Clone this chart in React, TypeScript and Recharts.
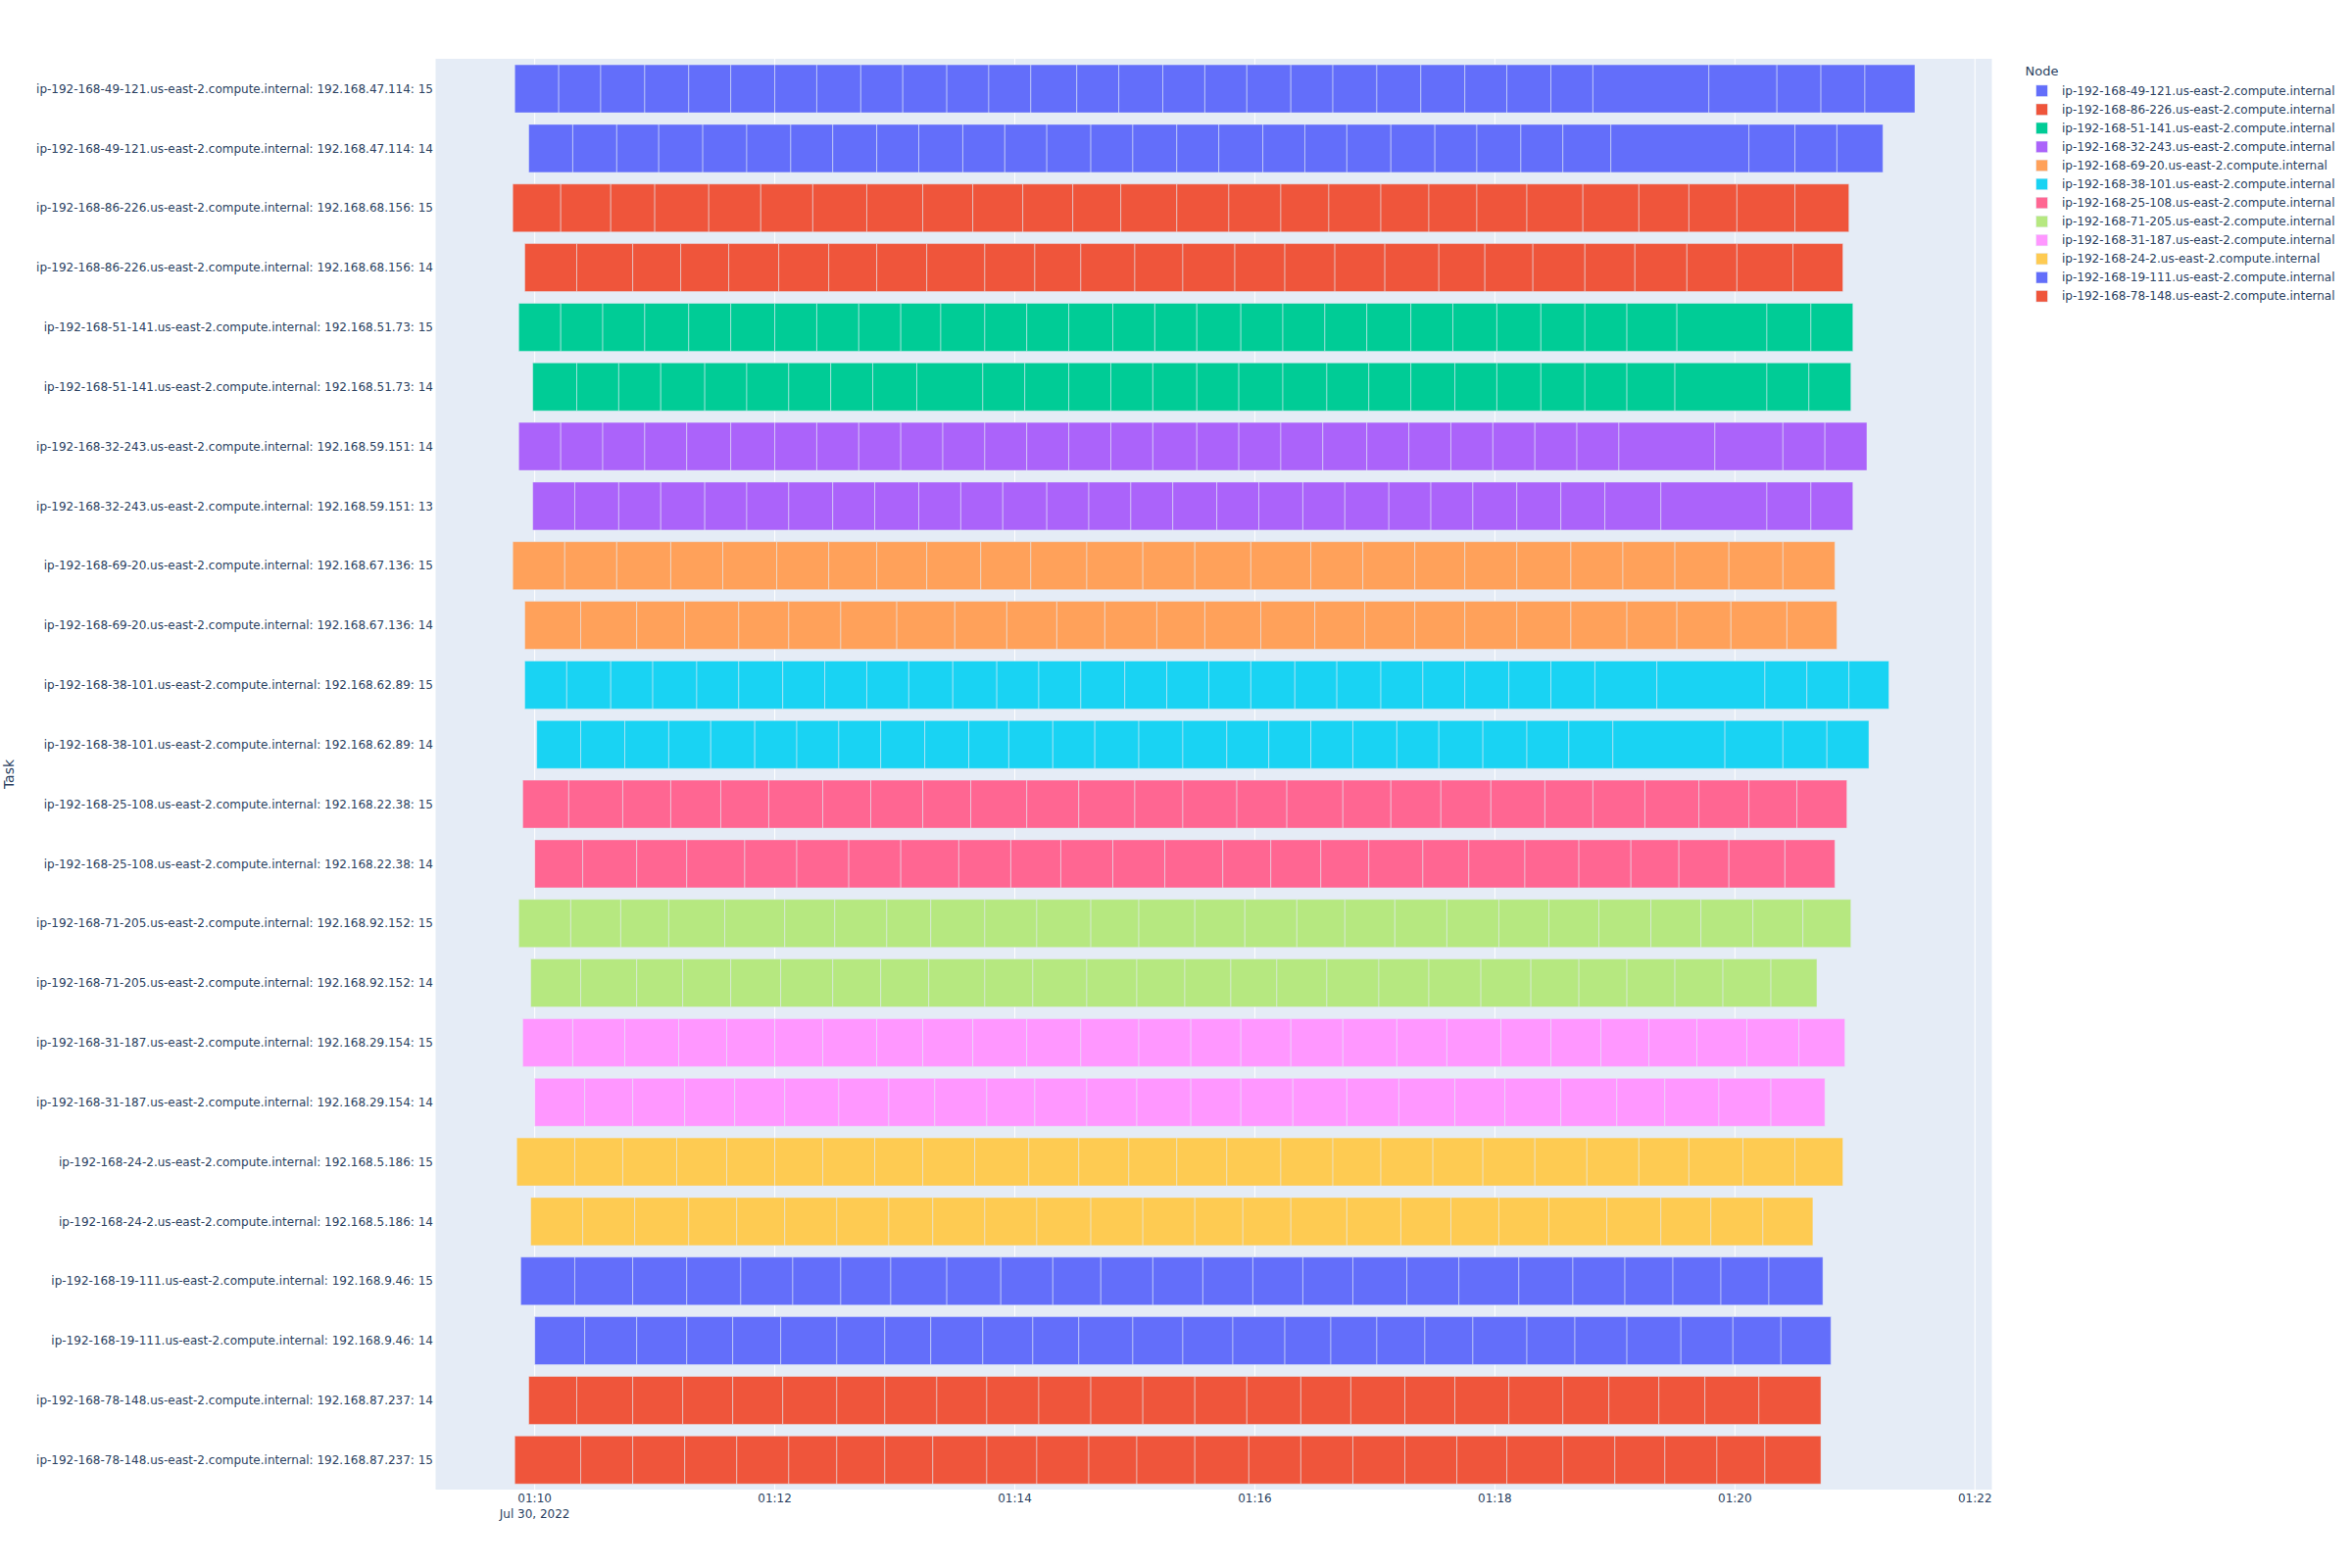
import { BarChart, Bar, XAxis, YAxis, CartesianGrid, Cell, Legend, Label } from "recharts";

const FONT = '"DejaVu Sans", verdana, arial, sans-serif';
const INK = "#2a3f5f";

// node names, in legend order
const nodes = [
  "ip-192-168-49-121.us-east-2.compute.internal",
  "ip-192-168-86-226.us-east-2.compute.internal",
  "ip-192-168-51-141.us-east-2.compute.internal",
  "ip-192-168-32-243.us-east-2.compute.internal",
  "ip-192-168-69-20.us-east-2.compute.internal",
  "ip-192-168-38-101.us-east-2.compute.internal",
  "ip-192-168-25-108.us-east-2.compute.internal",
  "ip-192-168-71-205.us-east-2.compute.internal",
  "ip-192-168-31-187.us-east-2.compute.internal",
  "ip-192-168-24-2.us-east-2.compute.internal",
  "ip-192-168-19-111.us-east-2.compute.internal",
  "ip-192-168-78-148.us-east-2.compute.internal",
];

const nodeColors = [
  "#636efa", "#EF553B", "#00cc96", "#ab63fa", "#FFA15A", "#19d3f3",
  "#FF6692", "#B6E880", "#FF97FF", "#FECB52", "#636efa", "#EF553B",
];

// task rows, top to bottom
const taskNode = [0, 0, 1, 1, 2, 2, 3, 3, 4, 4, 5, 5, 6, 6, 7, 7, 8, 8, 9, 9, 10, 10, 11, 11];
const taskWorker = [
  "192.168.47.114: 15", "192.168.47.114: 14",
  "192.168.68.156: 15", "192.168.68.156: 14",
  "192.168.51.73: 15", "192.168.51.73: 14",
  "192.168.59.151: 14", "192.168.59.151: 13",
  "192.168.67.136: 15", "192.168.67.136: 14",
  "192.168.62.89: 15", "192.168.62.89: 14",
  "192.168.22.38: 15", "192.168.22.38: 14",
  "192.168.92.152: 15", "192.168.92.152: 14",
  "192.168.29.154: 15", "192.168.29.154: 14",
  "192.168.5.186: 15", "192.168.5.186: 14",
  "192.168.9.46: 15", "192.168.9.46: 14",
  "192.168.87.237: 14", "192.168.87.237: 15",
];

// segment boundaries per task, seconds after 01:00:00 (Jul 30, 2022)
const segmentTimes = [
  [590, 612, 633, 655, 677, 698, 720, 741, 763, 784, 806, 827, 848, 871, 892, 914, 935, 956, 978, 999, 1021, 1043, 1065, 1086, 1108, 1129, 1187, 1221, 1243, 1265, 1290],
  [597, 619, 641, 662, 684, 706, 728, 749, 771, 792, 814, 835, 856, 878, 899, 921, 942, 964, 985, 1006, 1028, 1050, 1071, 1093, 1114, 1138, 1207, 1230, 1251, 1274],
  [589, 613, 638, 660, 687, 713, 739, 766, 794, 819, 844, 869, 893, 921, 947, 973, 997, 1023, 1047, 1071, 1096, 1124, 1152, 1177, 1201, 1230, 1257],
  [595, 621, 649, 673, 697, 722, 747, 771, 796, 825, 850, 873, 900, 924, 950, 975, 1000, 1025, 1052, 1075, 1099, 1125, 1150, 1176, 1201, 1229, 1254],
  [592, 613, 634, 655, 677, 698, 720, 741, 762, 783, 803, 825, 846, 867, 889, 910, 931, 953, 974, 995, 1016, 1038, 1059, 1081, 1103, 1125, 1146, 1171, 1216, 1238, 1259],
  [599, 621, 642, 663, 685, 706, 727, 748, 769, 791, 824, 845, 867, 888, 909, 931, 952, 974, 996, 1017, 1038, 1060, 1081, 1103, 1125, 1146, 1170, 1216, 1237, 1258],
  [592, 613, 634, 655, 676, 698, 720, 741, 762, 783, 804, 825, 846, 867, 888, 909, 931, 952, 973, 994, 1016, 1037, 1058, 1079, 1100, 1121, 1142, 1190, 1224, 1245, 1266],
  [599, 620, 642, 663, 685, 706, 727, 749, 770, 792, 813, 834, 856, 877, 898, 919, 941, 962, 984, 1005, 1027, 1048, 1069, 1091, 1113, 1135, 1163, 1216, 1238, 1259],
  [589, 615, 641, 668, 694, 721, 747, 771, 796, 823, 848, 876, 904, 930, 958, 988, 1014, 1040, 1065, 1091, 1118, 1144, 1170, 1197, 1224, 1250],
  [595, 623, 651, 675, 702, 727, 753, 781, 810, 836, 861, 885, 911, 935, 963, 990, 1015, 1040, 1065, 1091, 1118, 1146, 1171, 1198, 1226, 1251],
  [595, 616, 638, 659, 681, 702, 724, 745, 766, 787, 809, 831, 852, 873, 895, 916, 937, 958, 980, 1001, 1023, 1044, 1065, 1087, 1108, 1130, 1161, 1215, 1236, 1257, 1277],
  [601, 623, 645, 667, 688, 710, 731, 752, 773, 795, 817, 837, 859, 880, 902, 924, 946, 967, 988, 1009, 1031, 1052, 1074, 1096, 1117, 1139, 1195, 1224, 1246, 1267],
  [594, 617, 644, 668, 693, 717, 744, 768, 794, 818, 846, 872, 900, 924, 951, 976, 1004, 1028, 1053, 1078, 1105, 1129, 1155, 1182, 1207, 1231, 1256],
  [600, 624, 651, 676, 705, 731, 757, 783, 812, 838, 863, 889, 915, 944, 968, 993, 1017, 1044, 1067, 1095, 1122, 1148, 1172, 1197, 1225, 1250],
  [592, 618, 643, 667, 695, 725, 750, 776, 798, 825, 851, 878, 902, 930, 955, 981, 1005, 1030, 1056, 1082, 1107, 1132, 1158, 1183, 1209, 1234, 1258],
  [598, 623, 651, 674, 698, 723, 749, 773, 797, 825, 849, 876, 901, 925, 948, 971, 996, 1022, 1047, 1073, 1098, 1122, 1146, 1170, 1194, 1218, 1241],
  [594, 619, 645, 672, 696, 720, 744, 771, 794, 819, 846, 873, 902, 928, 953, 978, 1004, 1031, 1056, 1083, 1108, 1133, 1157, 1181, 1206, 1232, 1255],
  [600, 625, 649, 675, 700, 725, 752, 777, 800, 826, 850, 876, 901, 928, 953, 979, 1006, 1032, 1060, 1085, 1113, 1141, 1165, 1192, 1218, 1245],
  [591, 620, 644, 671, 696, 720, 744, 770, 794, 820, 847, 872, 897, 921, 946, 973, 999, 1023, 1049, 1074, 1100, 1126, 1152, 1177, 1204, 1230, 1254],
  [598, 624, 650, 677, 701, 725, 751, 777, 799, 825, 851, 878, 904, 930, 954, 978, 1006, 1033, 1058, 1082, 1107, 1136, 1163, 1188, 1214, 1239],
  [593, 620, 649, 676, 703, 729, 753, 778, 806, 833, 859, 883, 909, 934, 959, 984, 1009, 1036, 1062, 1092, 1119, 1145, 1169, 1193, 1217, 1244],
  [600, 625, 651, 676, 699, 723, 751, 775, 798, 824, 849, 872, 899, 924, 949, 975, 998, 1021, 1045, 1069, 1096, 1120, 1146, 1173, 1199, 1223, 1248],
  [597, 621, 649, 674, 699, 724, 751, 775, 801, 826, 852, 878, 904, 930, 956, 983, 1008, 1035, 1060, 1087, 1114, 1137, 1162, 1185, 1212, 1243],
  [590, 623, 649, 675, 701, 727, 751, 775, 799, 826, 851, 877, 901, 930, 957, 983, 1009, 1035, 1061, 1086, 1114, 1140, 1165, 1191, 1215, 1243],
];

const xTicks = [600, 720, 840, 960, 1080, 1200, 1320];
const xDomain = [550.2, 1328.7];

const rows = segmentTimes.map((b, i) => {
  const r: Record<string, any> = {
    task: `${nodes[taskNode[i]]}: ${taskWorker[i]}`,
    start: b[0],
  };
  for (let k = 1; k < b.length; k++) r[`d${k - 1}`] = b[k] - b[k - 1];
  return r;
});

const segCount = Math.max(...segmentTimes.map((b) => b.length - 1));
const segKeys = Array.from({ length: segCount }, (_, k) => `d${k}`);

const fmtTime = (s: number) => `01:${String(Math.round(s / 60)).padStart(2, "0")}`;

function XTick(props: any) {
  const { x, y, payload } = props;
  return (
    <g>
      <text x={x} y={y + 12.5} textAnchor="middle" fontSize={12} fontFamily={FONT} fill={INK}>
        {fmtTime(payload.value)}
      </text>
      {payload.value === 600 && (
        <text x={x} y={y + 29} textAnchor="middle" fontSize={12} fontFamily={FONT} fill={INK}>
          Jul 30, 2022
        </text>
      )}
    </g>
  );
}

function NodeLegend() {
  return (
    <svg width={360} height={300} style={{ overflow: "visible" }}>
      <text x={26.5} y={17.5} dominantBaseline="central" fontSize={13} fontFamily={FONT} fill={INK}>
        Node
      </text>
      {nodes.map((n, i) => {
        const cy = 37.7 + i * 19.05;
        return (
          <g key={n}>
            <rect x={37.7} y={cy - 5.8} width={11.6} height={11.6} fill={nodeColors[i]} stroke="#E5ECF6" strokeWidth={0.5} />
            <text x={64} y={cy} dominantBaseline="central" fontSize={12} fontFamily={FONT} fill={INK}>
              {n}
            </text>
          </g>
        );
      })}
    </svg>
  );
}

export default function App() {
  return (
    <div style={{ position: "absolute", left: 0, top: 0, width: 2400, height: 1600, background: "#fff", overflow: "hidden" }}>
      <BarChart
        layout="vertical"
        width={2400}
        height={1600}
        data={rows}
        margin={{ top: 60, right: 367, bottom: 40, left: 0 }}
        barCategoryGap="10%"
      >
        <CartesianGrid horizontal={false} stroke="#ffffff" strokeWidth={1} fill="#E5ECF6" fillOpacity={1} />
        <XAxis
          type="number"
          domain={xDomain}
          allowDataOverflow
          ticks={xTicks}
          tick={<XTick />}
          tickLine={false}
          axisLine={false}
          tickSize={0}
          tickMargin={0}
          height={40}
        />
        <YAxis
          type="category"
          dataKey="task"
          width={444}
          interval={0}
          tickLine={false}
          axisLine={false}
          tickSize={0}
          tickMargin={2}
          tick={{ fontSize: 12, fill: INK, fontFamily: FONT }}
        >
          <Label
            content={() => (
              <text
                x={9}
                y={790}
                transform="rotate(-90 9 790)"
                textAnchor="middle"
                dominantBaseline="central"
                fontSize={14}
                fontFamily={FONT}
                fill={INK}
              >
                Task
              </text>
            )}
          />
        </YAxis>
        <Bar dataKey="start" stackId="t" fill="transparent" isAnimationActive={false} />
        {segKeys.map((k) => (
          <Bar key={k} dataKey={k} stackId="t" stroke="#E5ECF6" strokeWidth={0.5} isAnimationActive={false}>
            {rows.map((_, i) => (
              <Cell key={i} fill={nodeColors[taskNode[i]]} />
            ))}
          </Bar>
        ))}
        <Legend
          layout="vertical"
          align="center"
          verticalAlign="middle"
          wrapperStyle={{ left: 2040, top: 55, width: 360, height: 300 }}
          content={() => <NodeLegend />}
        />
      </BarChart>
    </div>
  );
}
